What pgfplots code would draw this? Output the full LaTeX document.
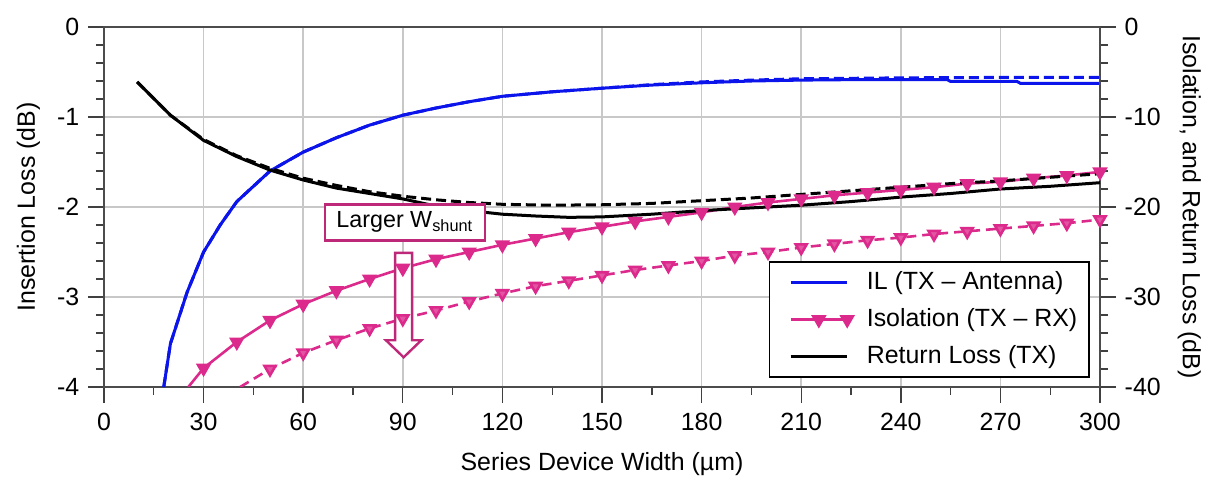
\documentclass[border=0pt]{standalone}
\usepackage{fontspec}
\setmainfont{Liberation Sans}
\usepackage{pgfplots}
\pgfplotsset{compat=1.18}
\definecolor{ilblue}{RGB}{10,20,235}
\definecolor{isopink}{RGB}{220,42,140}
\definecolor{annpink}{RGB}{190,40,120}
\definecolor{gridgray}{RGB}{200,200,200}
\begin{document}
\fontsize{12.5}{15}\selectfont
\begin{tikzpicture}
\pgfplotsset{every axis/.append style={
  width=498bp, height=180bp, scale only axis,
  xmin=0, xmax=300,
  font=\fontsize{12.5}{15}\selectfont,
  /pgf/number format/assume math mode=true,
  tick align=outside, major tick length=8bp, minor tick length=4bp,
  every tick/.style={black!75, line width=0.7bp},
  axis line style={black!70, line width=0.8bp},
  legend image code/.code={\path (0cm,0cm) (1.45cm,0cm); \draw[mark repeat=2,mark phase=2,##1] plot coordinates {(0.2cm,0cm) (0.7cm,0cm) (1.2cm,0cm)};},
}}
\begin{axis}[
  name=ax,
  ymin=-4, ymax=0,
  ytick={-4,-3,-2,-1,0}, minor y tick num=4,
  xtick={0,30,...,300}, minor x tick num=1,
  xtick pos=left, ytick pos=left,
  grid=major, major grid style={gridgray, line width=0.8bp},
  xticklabel style={yshift=-0.5bp},
  xlabel style={yshift=-2.5bp},
  xlabel={Series Device Width (µm)},
  ylabel={Insertion Loss (dB)},
]
\addplot[ilblue, line width=1.5bp] coordinates {
(18,-4.0) (20,-3.52) (25,-2.95) (30,-2.5) (35,-2.2) (40,-1.94) (50,-1.6) (60,-1.39) (70,-1.23) (80,-1.09) (90,-0.98) (100,-0.9) (110,-0.83) (120,-0.77) (135,-0.72) (150,-0.68) (165,-0.645) (180,-0.62) (195,-0.6) (210,-0.59) (225,-0.585) (254,-0.585) (255,-0.605) (275,-0.605) (276,-0.625) (300,-0.625)};
\addplot[ilblue, line width=1.5bp, dash pattern=on 5bp off 2.5bp] coordinates {
(18,-4.0) (20,-3.52) (25,-2.95) (30,-2.5) (35,-2.2) (40,-1.94) (50,-1.6) (60,-1.39) (70,-1.23) (80,-1.09) (90,-0.98) (100,-0.9) (110,-0.83) (120,-0.77) (135,-0.72) (150,-0.68) (165,-0.64) (180,-0.61) (195,-0.59) (210,-0.575) (240,-0.565) (270,-0.56) (300,-0.56)};
\end{axis}
\begin{axis}[
  axis y line*=right, axis x line=none,
  ymin=-40, ymax=0,
  ytick={-40,-30,...,0}, minor y tick num=4,
  ylabel={Isolation, and Return Loss (dB)},
  ylabel style={rotate=180},
  legend style={at={(0.99,0.025)}, anchor=south east, draw=black, line width=0.8bp,
    font=\fontsize{12.5}{15}\selectfont, row sep=3.5bp, inner xsep=4bp, inner ysep=3bp},
  legend cell align=left,
]
\addlegendimage{ilblue, line width=1.5bp}
\addlegendentry{IL (TX – Antenna)}
\addplot[isopink, line width=1.3bp, mark=triangle*, mark size=3.2bp, mark options={rotate=180, solid, fill=isopink},
  mark indices={2,...,29}] coordinates {
(25.4,-40) (30,-37.9) (40,-35.0) (50,-32.6) (60,-30.8) (70,-29.3) (80,-28.0) (90,-26.8) (100,-25.8) (110,-25.0) (120,-24.2) (130,-23.5) (140,-22.8) (150,-22.2) (160,-21.6) (170,-21.1) (180,-20.6) (190,-20.0) (200,-19.5) (210,-19.1) (220,-18.7) (230,-18.4) (240,-18.1) (250,-17.8) (260,-17.4) (270,-17.2) (280,-16.8) (290,-16.5) (300,-16.1)};
\addlegendentry{Isolation (TX – RX)}
\addplot[forget plot, isopink, line width=1.3bp, dash pattern=on 5bp off 3bp, mark=triangle*, mark size=3.2bp, mark options={rotate=180, solid, fill=isopink!80!white},
  mark indices={2,...,27}] coordinates {
(41,-40) (50,-38.0) (60,-36.2) (70,-34.8) (80,-33.5) (90,-32.4) (100,-31.5) (110,-30.5) (120,-29.6) (130,-28.8) (140,-28.2) (150,-27.6) (160,-27.0) (170,-26.5) (180,-26.0) (190,-25.4) (200,-25.0) (210,-24.5) (220,-24.1) (230,-23.7) (240,-23.4) (250,-23.0) (260,-22.7) (270,-22.4) (280,-22.1) (290,-21.8) (300,-21.4)};
\addplot[black, line width=1.5bp] coordinates {
(10,-6.1) (20,-9.8) (30,-12.6) (40,-14.4) (50,-15.9) (60,-17.0) (70,-17.9) (80,-18.5) (90,-19.1) (100,-19.9) (110,-20.4) (120,-20.8) (130,-21.0) (140,-21.15) (150,-21.1) (165,-20.8) (180,-20.4) (195,-20.1) (210,-19.8) (225,-19.4) (240,-18.9) (255,-18.5) (270,-18.0) (285,-17.7) (300,-17.3)};
\addlegendentry{Return Loss (TX)}
\addplot[forget plot, black, line width=1.5bp, dash pattern=on 5bp off 2.5bp] coordinates {
(10,-6.1) (20,-9.8) (30,-12.5) (40,-14.3) (50,-15.7) (60,-16.8) (70,-17.6) (80,-18.3) (90,-18.8) (100,-19.2) (110,-19.5) (120,-19.7) (135,-19.8) (150,-19.75) (165,-19.6) (180,-19.3) (195,-19.0) (210,-18.6) (225,-18.2) (240,-17.8) (255,-17.4) (270,-17.1) (285,-16.7) (300,-16.3)};
\node[draw=annpink, line width=1.2bp, fill=white, minimum width=80bp, minimum height=18bp, inner sep=2bp, font=\fontsize{11.7}{14}\selectfont]
  at (axis cs:90.6,-21.7) {Larger W\textsubscript{shunt}};
\draw[annpink, line width=1.2bp, fill=white]
  (axis cs:87.7,-25.1) -- (axis cs:87.7,-34.8) -- (axis cs:84.9,-34.8) -- (axis cs:90.25,-36.7)
  -- (axis cs:95.6,-34.8) -- (axis cs:92.8,-34.8) -- (axis cs:92.8,-25.1) -- cycle;
\end{axis}
\pgfresetboundingbox
\path ([xshift=-52bp,yshift=-45bp]ax.south west) rectangle ([xshift=55.5bp,yshift=13.5bp]ax.north east);
\end{tikzpicture}
\end{document}
